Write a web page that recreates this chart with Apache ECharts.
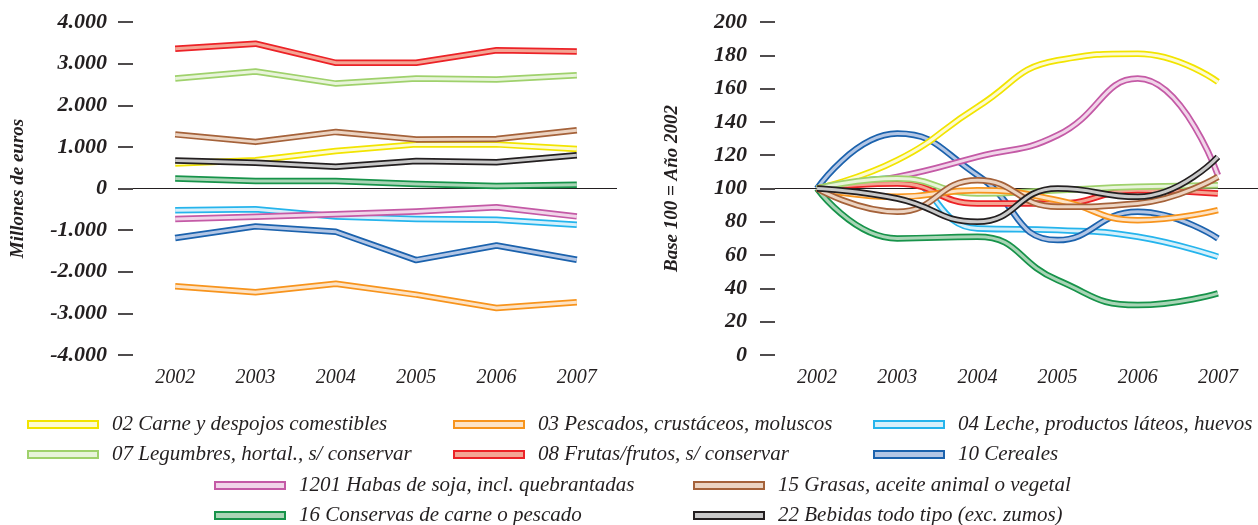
<!DOCTYPE html>
<html>
<head>
<meta charset="utf-8">
<script src="https://cdn.jsdelivr.net/npm/echarts@6/dist/echarts.min.js"></script>
<style>
  html, body { margin: 0; padding: 0; background: #fff; }
  #chart { width: 1258px; height: 525px; }
</style>
</head>
<body>
<div id="chart"></div>
<script>
// years on the x axis
var years = [2002, 2003, 2004, 2005, 2006, 2007];

// series labels
var names = [
  '02 Carne y despojos comestibles',
  '03 Pescados, crustáceos, moluscos',
  '04 Leche, productos láteos, huevos',
  '07 Legumbres, hortal., s/ conservar',
  '08 Frutas/frutos, s/ conservar',
  '10 Cereales',
  '1201 Habas de soja, incl. quebrantadas',
  '15 Grasas, aceite animal o vegetal',
  '16 Conservas de carne o pescado',
  '22 Bebidas todo tipo (exc. zumos)'
];

// left chart: saldo, millones de euros
var saldo02 = [600, 680, 900, 1060, 1060, 950];
var saldo03 = [-2350, -2490, -2290, -2550, -2870, -2730];
var saldo04 = [-520, -500, -670, -730, -750, -870];
var saldo07 = [2640, 2810, 2520, 2640, 2620, 2720];
var saldo08 = [3360, 3480, 3020, 3020, 3320, 3290];
var saldo10 = [-1190, -910, -1040, -1720, -1370, -1710];
var saldo1201 = [-730, -680, -620, -550, -450, -670];
var saldo15 = [1300, 1120, 1360, 1180, 1190, 1400];
var saldo16 = [240, 180, 180, 110, 60, 90];
var saldo22 = [670, 620, 520, 660, 630, 800];

// right chart: base 100 = 2002
var base02 = [100, 117, 149, 177, 181, 164];
var base03 = [100, 95, 99, 93, 81, 87];
var base04 = [100, 106, 76, 75, 71, 59];
var base07 = [100, 106, 97, 99, 101, 102];
var base08 = [100, 103, 91, 91, 99, 97];
var base10 = [100, 133, 108, 69, 86, 70];
var base1201 = [100, 107, 119, 132, 166, 108];
var base15 = [100, 86, 105, 89, 91, 107];
var base16 = [100, 70, 71, 45, 30, 37];
var base22 = [100, 94, 80, 100, 95, 119];

var saldos = [saldo02, saldo03, saldo04, saldo07, saldo08, saldo10, saldo1201, saldo15, saldo16, saldo22];
var bases = [base02, base03, base04, base07, base08, base10, base1201, base15, base16, base22];

// border colour and fill colour of each band
var edge = ['#f2e400', '#f7941d', '#25b4ec', '#9fd16c', '#ec2227', '#1b62ad', '#c45aa6', '#a5623a', '#17934a', '#231f20'];
var fill = ['#fdfbd2', '#fde3c6', '#d6f0fb', '#e8f4da', '#f4a594', '#b3c6e5', '#f1d5e9', '#ecd4c2', '#a9d5b6', '#c9c9c9'];

// drawing order (last on top)
var orderLeft = [0, 1, 2, 3, 4, 5, 6, 7, 8, 9];
var orderRight = [8, 2, 5, 6, 0, 4, 3, 1, 7, 9];

var ink = '#231f20';
var serif = '"Liberation Serif", "DejaVu Serif", serif';

function pairs(vals) {
  return vals.map(function (v, i) { return [years[i], v]; });
}

function bandSeries(idx, vals, axis, smooth, first, refValue) {
  var outer = {
    name: names[idx],
    type: 'line',
    xAxisIndex: axis, yAxisIndex: axis,
    data: pairs(vals),
    smooth: smooth,
    symbol: 'none',
    silent: true,
    color: edge[idx],
    lineStyle: { color: edge[idx], width: 6.5, cap: 'butt', join: 'round' },
    emphasis: { disabled: true }
  };
  if (first) {
    outer.markLine = {
      z: 1,
      silent: true,
      symbol: 'none',
      label: { show: false },
      lineStyle: { color: ink, width: 1, type: 'solid' },
      data: [{ yAxis: refValue }]
    };
  }
  var inner = {
    name: names[idx] + ' (relleno)',
    type: 'line',
    xAxisIndex: axis, yAxisIndex: axis,
    data: pairs(vals),
    smooth: smooth,
    symbol: 'none',
    silent: true,
    color: fill[idx],
    lineStyle: { color: fill[idx], width: 3, cap: 'butt', join: 'round' },
    emphasis: { disabled: true }
  };
  return [outer, inner];
}

var series = [];
orderLeft.forEach(function (idx, k) {
  series = series.concat(bandSeries(idx, saldos[idx], 0, false, k === 0, 0));
});
orderRight.forEach(function (idx, k) {
  series = series.concat(bandSeries(idx, bases[idx], 1, 0.5, k === 0, 100));
});

// legend placement: [series index, left, top]
var legendSpots = [
  [0, 27, 414], [1, 453, 414], [2, 873, 414],
  [3, 27, 444], [4, 453, 444], [5, 873, 444],
  [6, 214, 475], [7, 693, 475],
  [8, 214, 505], [9, 693, 505]
];
var legends = legendSpots.map(function (s) {
  var idx = s[0];
  return {
    left: s[1], top: s[2],
    padding: 0,
    selectedMode: false,
    itemWidth: 70, itemHeight: 7,
    textStyle: { fontFamily: serif, fontStyle: 'italic', fontSize: 21, color: ink, padding: [0, 0, 0, 9] },
    data: [{
      name: names[idx],
      icon: 'rect',
      itemStyle: { color: fill[idx], borderColor: edge[idx], borderWidth: 2 }
    }]
  };
});

function xAxisFor(grid) {
  return {
    type: 'value', gridIndex: grid,
    min: 2001.475, max: 2007.5,
    axisLine: { show: false },
    axisTick: { show: false },
    splitLine: { show: false },
    axisLabel: {
      customValues: years,
      formatter: function (v) { return String(v); },
      margin: 13,
      fontFamily: serif, fontStyle: 'italic', fontSize: 20, color: ink
    }
  };
}

var yLabel = { fontFamily: serif, fontStyle: 'italic', fontWeight: 'bold', fontSize: 22, color: ink };
var yName = { fontFamily: serif, fontStyle: 'italic', fontWeight: 'bold', fontSize: 19, color: ink };

var chart = echarts.init(document.getElementById('chart'), null, { renderer: 'canvas' });
chart.setOption({
  animation: false,
  backgroundColor: '#fff',
  legend: legends,
  grid: [
    { left: 133, right: 641, top: 22, bottom: 170 },
    { left: 775, right: 0, top: 22, bottom: 170 }
  ],
  xAxis: [xAxisFor(0), xAxisFor(1)],
  yAxis: [{
    type: 'value', gridIndex: 0,
    min: -4000, max: 4000, interval: 1000,
    name: 'Millones de euros',
    nameLocation: 'middle', nameGap: 105,
    nameTextStyle: yName,
    axisLine: { show: false },
    axisTick: { show: true, length: 15, lineStyle: { color: ink, width: 1.6 } },
    splitLine: { show: false },
    axisLabel: Object.assign({ margin: 26, formatter: function (v) { return v === 0 ? '0' : (v / 1000).toFixed(3); } }, yLabel)
  }, {
    type: 'value', gridIndex: 1,
    min: 0, max: 200, interval: 20,
    name: 'Base 100 = Año 2002',
    nameLocation: 'middle', nameGap: 93,
    nameTextStyle: yName,
    axisLine: { show: false },
    axisTick: { show: true, length: 15, lineStyle: { color: ink, width: 1.6 } },
    splitLine: { show: false },
    axisLabel: Object.assign({ margin: 28 }, yLabel)
  }],
  series: series
});
</script>
</body>
</html>
